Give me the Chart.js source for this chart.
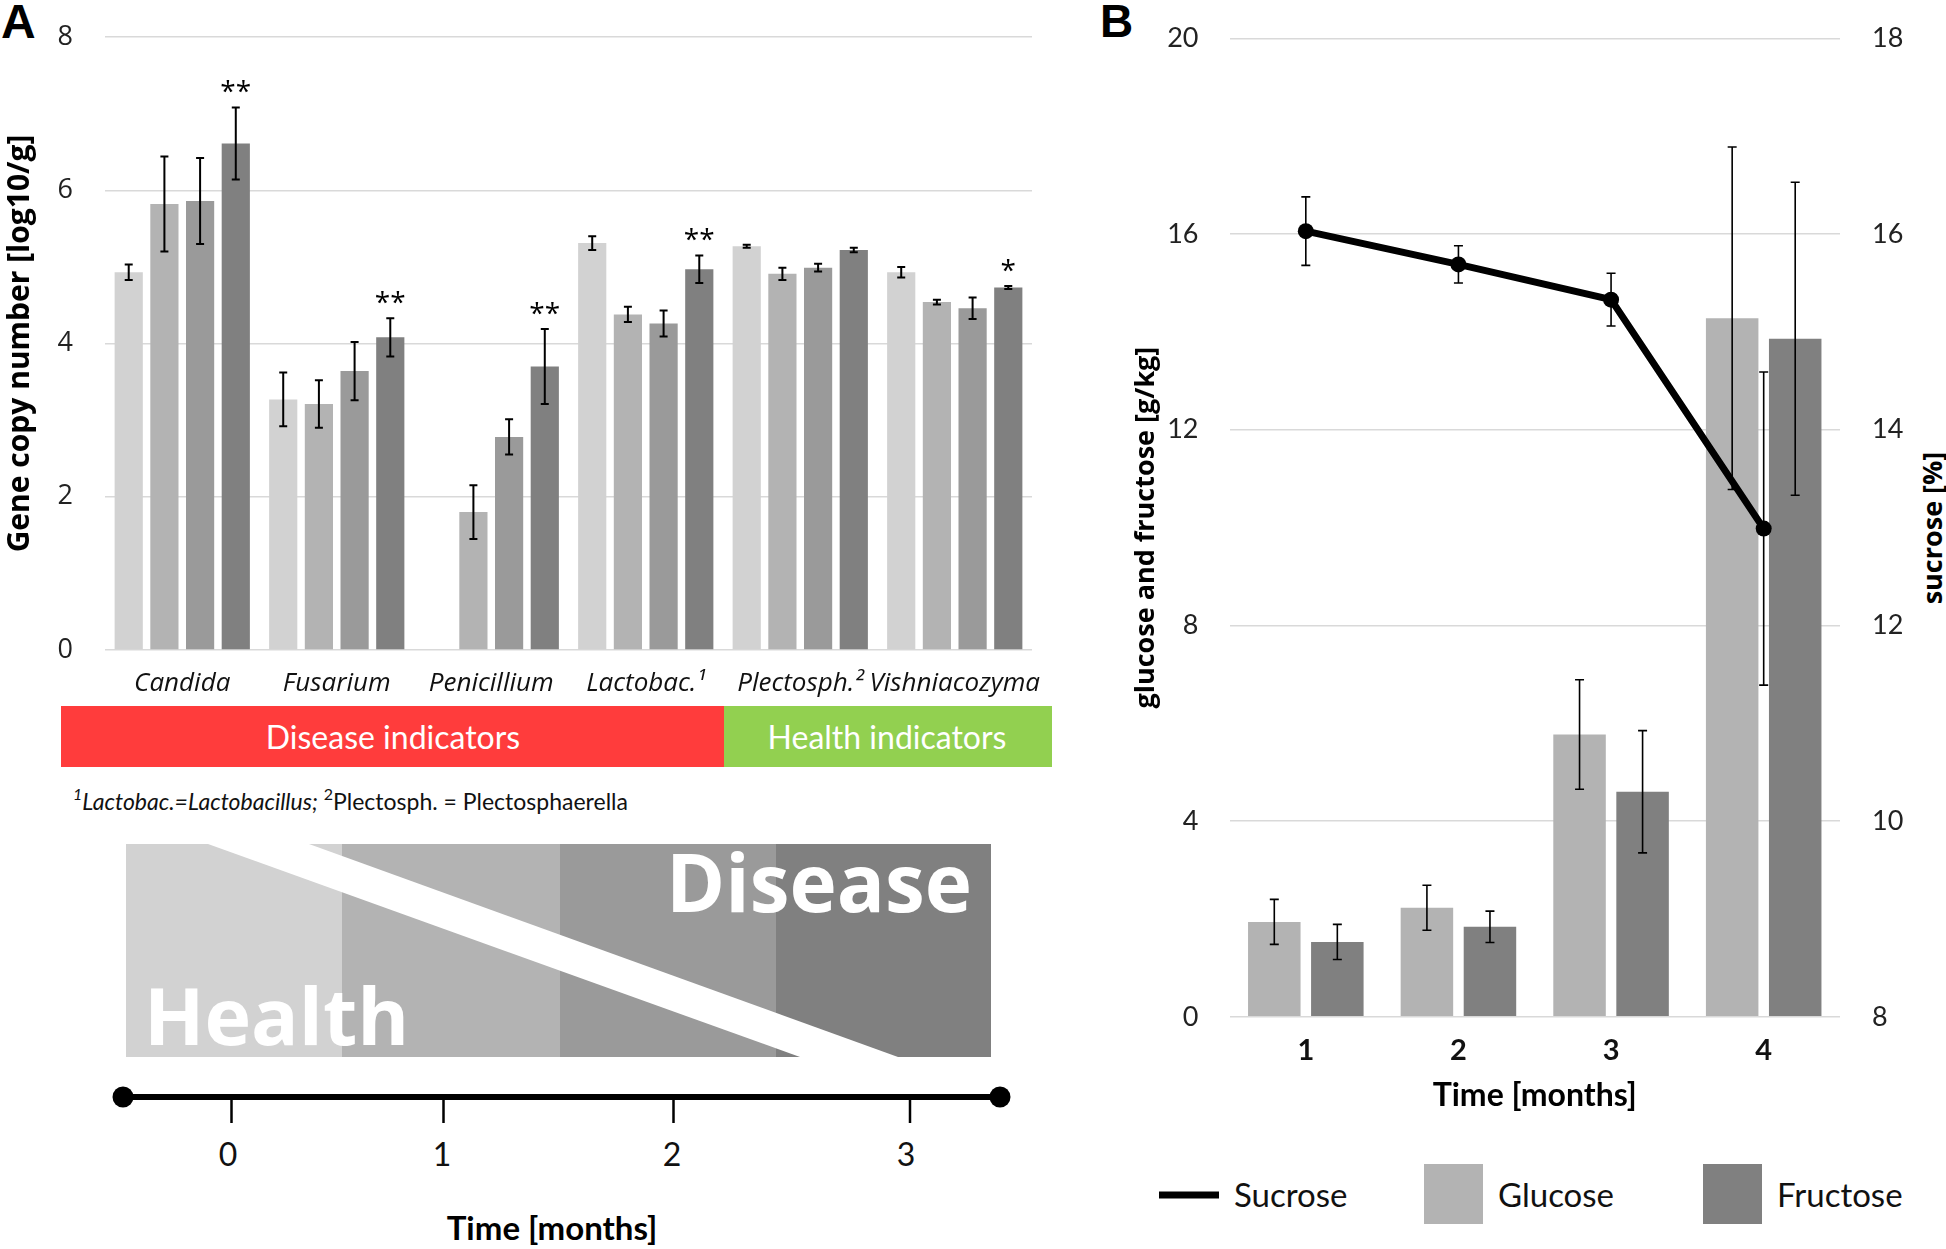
<!DOCTYPE html>
<html>
<head>
<meta charset="utf-8">
<script src="https://cdn.jsdelivr.net/npm/chart.js@4.4.0/dist/chart.umd.min.js"></script>
<style>
  body { margin: 0; background: #fff; }
  #page { position: relative; width: 1946px; height: 1249px; overflow: hidden; }
  #deco { position: absolute; left: 0; top: 0; }
  canvas { position: absolute; }
  #chartA { left: 0; top: 0; }
  #chartB { left: 1100px; top: 0; }
</style>
</head>
<body>
<div id="page">
  <svg id="deco" width="1946" height="1249" xmlns="http://www.w3.org/2000/svg"></svg>
  <canvas id="chartA" width="1080" height="720"></canvas>
  <canvas id="chartB" width="846" height="1130"></canvas>
</div>
<script>
// ---- panel A data (gene copy number, log10/g) ----
const categoriesA = ['Candida', 'Fusarium', 'Penicillium', 'Lactobac.\u00b9', 'Plectosph.\u00b2', 'Vishniacozyma'];
const seriesNamesA = ['Month 0', 'Month 1', 'Month 2', 'Month 3'];
const month0 = [4.93, 3.27, null, 5.31, 5.27, 4.93];
const month0Err = [0.10, 0.35, null, 0.09, 0.02, 0.07];
const month1 = [5.82, 3.21, 1.80, 4.38, 4.91, 4.54];
const month1Err = [0.62, 0.31, 0.35, 0.10, 0.08, 0.03];
const month2 = [5.86, 3.64, 2.78, 4.26, 4.99, 4.46];
const month2Err = [0.56, 0.38, 0.23, 0.17, 0.05, 0.14];
const month3 = [6.61, 4.08, 3.70, 4.97, 5.22, 4.73];
const month3Err = [0.47, 0.25, 0.49, 0.18, 0.03, 0.02];
const signifA = ['**', '**', '**', '**', '', '*'];

// ---- panel B data ----
const monthsB = ['1', '2', '3', '4'];
const glucose = [1.94, 2.23, 5.77, 14.28];
const glucoseErr = [0.46, 0.46, 1.12, 3.5];
const fructose = [1.53, 1.84, 4.60, 13.86];
const fructoseErr = [0.36, 0.32, 1.25, 3.2];
const sucrose = [16.03, 15.69, 15.33, 12.99];
const sucroseErr = [0.35, 0.19, 0.27, 1.6];

// ---- diagram texts ----
const indicatorLabels = ['Disease indicators', 'Health indicators'];
const timelineTicks = ['0', '1', '2', '3'];

const greysA = ['#d2d2d2', '#b3b3b3', '#9a9a9a', '#808080'];
const GRID = '#d9d9d9';
const NOTICK = 'rgba(0,0,0,0)';

// error bars drawn from each dataset's "errors" list
const errorBars = {
  id: 'errorBars',
  afterDatasetsDraw(chart, args, opts) {
    const ctx = chart.ctx;
    ctx.save();
    ctx.strokeStyle = '#000';
    ctx.lineWidth = opts.lineWidth;
    chart.data.datasets.forEach((ds, di) => {
      if (!ds.errors) return;
      const meta = chart.getDatasetMeta(di);
      const scale = chart.scales[meta.yAxisID];
      meta.data.forEach((el, i) => {
        const v = ds.data[i], e = ds.errors[i];
        if (v == null || e == null) return;
        const x = el.x;
        const yt = scale.getPixelForValue(v + e);
        const yb = scale.getPixelForValue(v - e);
        const c = opts.cap;
        ctx.beginPath();
        ctx.moveTo(x, yt); ctx.lineTo(x, yb);
        ctx.moveTo(x - c, yt); ctx.lineTo(x + c, yt);
        ctx.moveTo(x - c, yb); ctx.lineTo(x + c, yb);
        ctx.stroke();
      });
    });
    ctx.restore();
  }
};

// significance stars above the last series
const stars = {
  id: 'stars',
  afterDatasetsDraw(chart) {
    const ctx = chart.ctx;
    chart.data.datasets.forEach((ds, di) => {
      if (!ds.stars) return;
      const meta = chart.getDatasetMeta(di);
      const scale = chart.scales[meta.yAxisID];
      ctx.save();
      ctx.fillStyle = '#000';
      ctx.font = '28px "Open Sans"';
      ctx.textAlign = 'center';
      ctx.textBaseline = 'alphabetic';
      meta.data.forEach((el, i) => {
        const s = ds.stars[i];
        if (!s) return;
        const top = scale.getPixelForValue(ds.data[i] + (ds.errors[i] || 0));
        ctx.fillText(s, el.x, top - 6);
      });
      ctx.restore();
    });
  }
};

const valsA = [month0, month1, month2, month3];
const errsA = [month0Err, month1Err, month2Err, month3Err];

new Chart(document.getElementById('chartA'), {
  type: 'bar',
  data: {
    labels: categoriesA,
    datasets: valsA.map((d, i) => ({
      label: seriesNamesA[i],
      data: d,
      errors: errsA[i],
      stars: i === 3 ? signifA : null,
      backgroundColor: greysA[i],
      categoryPercentage: 0.924,
      barPercentage: 0.79
    }))
  },
  options: {
    responsive: false,
    animation: false,
    devicePixelRatio: 1,
    layout: { padding: { top: 37, right: 48, left: 0, bottom: 0 } },
    plugins: {
      legend: { display: false },
      tooltip: { enabled: false },
      errorBars: { cap: 4, lineWidth: 2 }
    },
    scales: {
      x: {
        grid: { display: false },
        border: { display: false },
        ticks: {
          color: '#111', padding: 10, maxRotation: 0, minRotation: 0, autoSkip: false,
          font: { family: 'Open Sans', size: 26, style: 'italic' }
        },
        afterFit: s => { s.height = 70; }
      },
      y: {
        min: 0, max: 8,
        ticks: { stepSize: 2, color: '#222', padding: 4, font: { family: 'Open Sans', size: 27 } },
        grid: { color: GRID, lineWidth: 1.5, drawTicks: true, tickLength: 28, tickColor: NOTICK },
        border: { display: false },
        title: {
          display: true, text: 'Gene copy number [log10/g]', color: '#000',
          font: { family: 'Open Sans', size: 30, weight: 'bold' }, padding: { top: 2, bottom: 0 }
        },
        afterFit: s => { s.width = 105; }
      }
    }
  },
  plugins: [errorBars, stars]
});

const chartB = new Chart(document.getElementById('chartB'), {
  type: 'bar',
  data: {
    labels: monthsB,
    datasets: [
      {
        type: 'line', label: 'Sucrose', data: sucrose, errors: sucroseErr, yAxisID: 'y1',
        borderColor: '#000', backgroundColor: '#000', borderWidth: 7,
        pointRadius: 8, pointBackgroundColor: '#000', pointBorderWidth: 0, order: 0
      },
      {
        label: 'Glucose', data: glucose, errors: glucoseErr, yAxisID: 'y',
        backgroundColor: '#b3b3b3', categoryPercentage: 0.826, barPercentage: 0.833, order: 1
      },
      {
        label: 'Fructose', data: fructose, errors: fructoseErr, yAxisID: 'y',
        backgroundColor: '#808080', categoryPercentage: 0.826, barPercentage: 0.833, order: 1
      }
    ]
  },
  options: {
    responsive: false,
    animation: false,
    devicePixelRatio: 1,
    layout: { padding: { top: 38.4, right: 0, left: 0, bottom: 0 } },
    plugins: {
      legend: { display: false },
      tooltip: { enabled: false },
      errorBars: { cap: 4.5, lineWidth: 1.6 }
    },
    scales: {
      x: {
        grid: { display: false },
        border: { display: false },
        ticks: { color: '#111', padding: 8, font: { family: 'Lato', size: 29, weight: 'bold' } },
        title: {
          display: true, text: 'Time [months]', color: '#000',
          font: { family: 'Lato', size: 32, weight: 'bold' }, padding: { top: 0, bottom: 15 }
        },
        afterFit: s => { s.height = 1130 - 1016.8; }
      },
      y: {
        position: 'left',
        min: 0, max: 20,
        ticks: { stepSize: 4, color: '#222', padding: 4, font: { family: 'Lato', size: 27 } },
        grid: { color: GRID, lineWidth: 1.5, drawTicks: true, tickLength: 27, tickColor: NOTICK },
        border: { display: false },
        title: {
          display: true, text: 'glucose and fructose [g/kg]', color: '#000',
          font: { family: 'Open Sans', size: 27, weight: 'bold' }, padding: { top: 30, bottom: 0 }
        },
        afterFit: s => { s.width = 129.5; }
      },
      y1: {
        position: 'right',
        min: 8, max: 18,
        ticks: { stepSize: 2, color: '#222', padding: 4, font: { family: 'Lato', size: 27 } },
        grid: { display: false, drawTicks: true, tickLength: 28, tickColor: NOTICK },
        border: { display: false },
        afterFit: s => { s.width = 106; }
      }
    }
  },
  plugins: [errorBars]
});

// ---- decorations: indicator band, footnote, health/disease graphic, timeline, legend ----
const NS = 'http://www.w3.org/2000/svg';
const svg = document.getElementById('deco');
function el(tag, attrs, text) {
  const e = document.createElementNS(NS, tag);
  for (const k in attrs) e.setAttribute(k, attrs[k]);
  if (text != null) e.textContent = text;
  svg.appendChild(e);
  return e;
}

// panel letters
el('text', { x: 1, y: 38, 'font-family': 'Liberation Sans, Arial', 'font-size': 48, 'font-weight': 'bold' }, 'A');
el('text', { x: 1100, y: 37, 'font-family': 'Liberation Sans, Arial', 'font-size': 46, 'font-weight': 'bold' }, 'B');

// indicator band
el('rect', { x: 61, y: 706, width: 663, height: 61, fill: '#ff3c3c' });
el('rect', { x: 724, y: 706, width: 328, height: 61, fill: '#92d050' });
el('text', { x: 393, y: 749, 'text-anchor': 'middle', fill: '#fff', 'font-family': 'Lato', 'font-size': 32 }, indicatorLabels[0]);
el('text', { x: 887, y: 749, 'text-anchor': 'middle', fill: '#fff', 'font-family': 'Lato', 'font-size': 32 }, indicatorLabels[1]);

// footnote
const fn = el('text', { x: 73, y: 810, 'font-family': 'Lato', 'font-size': 23, fill: '#111' });
fn.innerHTML = '<tspan font-size="16" dy="-10" font-style="italic">1</tspan><tspan dy="10" font-style="italic">Lactobac.=Lactobacillus;</tspan><tspan> </tspan>' +
  '<tspan font-size="16" dy="-10">2</tspan><tspan dy="10">Plectosph. = Plectosphaerella</tspan>';

// health -> disease graphic
const bandX = [126, 342, 560, 776, 991];
for (let i = 0; i < 4; i++) {
  el('rect', { x: bandX[i], y: 844, width: bandX[i + 1] - bandX[i], height: 213, fill: greysA[i] });
}
el('polygon', { points: '208,844 309,844 898,1057 800,1057', fill: '#fff' });
el('text', { x: 666, y: 912, fill: '#fff', 'font-family': 'Open Sans', 'font-size': 80, 'font-weight': 'bold' }, 'Disease');
el('text', { x: 144, y: 1045, fill: '#fff', 'font-family': 'Open Sans', 'font-size': 79, 'font-weight': 'bold' }, 'Health');

// timeline
el('line', { x1: 123, y1: 1097, x2: 1000, y2: 1097, stroke: '#000', 'stroke-width': 6 });
el('circle', { cx: 123, cy: 1097, r: 10.5, fill: '#000' });
el('circle', { cx: 1000, cy: 1097, r: 10.5, fill: '#000' });
const tickX = [231.5, 443.5, 673.5, 910];
const labelX = [228, 442, 672, 906];
timelineTicks.forEach((t, i) => {
  el('line', { x1: tickX[i], y1: 1097, x2: tickX[i], y2: 1123, stroke: '#000', 'stroke-width': 2.5 });
  el('text', { x: labelX[i], y: 1166, 'text-anchor': 'middle', 'font-family': 'Lato', 'font-size': 32, fill: '#111' }, t);
});
el('text', { x: 552, y: 1240, 'text-anchor': 'middle', 'font-family': 'Lato', 'font-size': 33, 'font-weight': 'bold', fill: '#000' }, 'Time [months]');

// right axis title of panel B (reads bottom to top)
el('text', { x: 0, y: 0, transform: 'translate(1931,528) rotate(-90)', 'text-anchor': 'middle', 'dominant-baseline': 'central',
  'font-family': 'Open Sans', 'font-size': 27, 'font-weight': 'bold', fill: '#000' }, 'sucrose [%]');

// legend of panel B, built from the chart datasets
const legendPos = [{ x: 1159, text: 1234 }, { x: 1424, text: 1498 }, { x: 1703, text: 1777 }];
chartB.data.datasets.forEach((ds, i) => {
  const p = legendPos[i];
  if (ds.type === 'line') {
    el('line', { x1: p.x, y1: 1195, x2: p.x + 60, y2: 1195, stroke: ds.borderColor, 'stroke-width': 7 });
  } else {
    el('rect', { x: p.x, y: 1164, width: 59, height: 60, fill: ds.backgroundColor });
  }
  el('text', { x: p.text, y: 1207, 'font-family': 'Lato', 'font-size': 33, fill: '#111' }, ds.label);
});
</script>
</body>
</html>
